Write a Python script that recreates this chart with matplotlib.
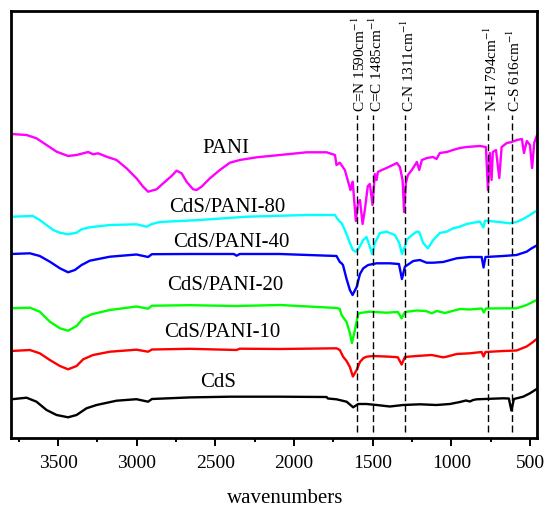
import matplotlib
matplotlib.use("Agg")
import matplotlib.pyplot as plt
from matplotlib.ticker import MultipleLocator, FixedLocator

plt.rcParams['font.family'] = ['Liberation Serif', 'DejaVu Serif']
plt.rcParams['mathtext.fontset'] = 'stix'

# ---- data (wavenumber, relative transmittance with offsets) ----
pani_w = [3800, 3701, 3638, 3574, 3510, 3437, 3383, 3309, 3278, 3246, 3192, 3129, 3065, 3002, 2960,
          2928, 2874, 2832, 2779, 2747, 2715, 2684, 2642, 2620, 2588, 2535, 2472, 2408, 2345, 2238,
          2090, 1920, 1793, 1740, 1730, 1709, 1677, 1656, 1641, 1637, 1627, 1607, 1594, 1581, 1564,
          1550, 1531, 1518, 1501, 1486, 1475, 1467, 1442, 1412, 1372, 1346, 1327, 1310, 1300, 1289,
          1276, 1251, 1219, 1204, 1187, 1155, 1117, 1094, 1073, 1028, 990, 945, 903, 818, 780, 767,
          755, 744, 736, 716, 695, 680, 647, 615, 583, 551, 538, 520, 500, 486, 473, 457]
pani_t = [304, 303, 299.7, 293, 286.3, 282, 283, 286, 283.7, 284.7, 281.3, 278, 269.7, 259.7, 251.3,
          246.3, 248.7, 254.7, 262, 267.3, 264.7, 256.3, 248.7, 248, 251.3, 259.7, 268, 275.3, 278, 280.7,
          283, 285.7, 285.7, 283, 273, 275.3, 268, 256.3, 248, 251.3, 256.3, 217, 235, 238, 214,
          228, 252, 254, 233, 264, 258, 266, 268, 270, 273, 275, 271, 258, 226, 255,
          263, 268, 276, 268, 278, 280, 281, 279, 285, 286, 288, 290, 291, 292, 291, 248,
          285, 258, 286, 288, 260, 291, 295, 296, 298, 299, 285, 297, 293, 270, 295, 302]

p80_w = [3800, 3661, 3617, 3532, 3489, 3437, 3383, 3351, 3299, 3171, 3002, 2938, 2904, 2853, 2599,
         2300, 1918, 1791, 1740, 1728, 1709, 1698, 1677, 1664, 1645, 1626, 1607, 1588, 1560, 1539,
         1518, 1503, 1486, 1454, 1412, 1391, 1359, 1331, 1314, 1295, 1284, 1263, 1221, 1204, 1179,
         1149, 1115, 1073, 1030, 988, 945, 903, 861, 818, 796, 786, 712, 627, 585, 543, 500, 468, 457]
p80_t = [221.3, 222, 218, 208, 205.3, 203.7, 205.3, 208.7, 210.7, 213, 213.7, 211.3, 214, 216, 218,
         221.3, 223, 223, 223, 220, 216.3, 215, 208, 203, 195, 188, 186.3, 190, 198, 201,
         191.3, 184, 195, 205, 206.3, 205, 203, 195, 184, 191.3, 198, 201.3, 206.3, 206, 195,
         189.7, 198, 205, 206.3, 209.7, 211.3, 214, 215.3, 216.3, 210.5, 217.3, 216.3, 214.7, 216, 219, 223, 226.3, 227]

p40_w = [3800, 3680, 3617, 3553, 3489, 3437, 3394, 3351, 3299, 3171, 3002, 2928, 2904, 2663, 2383,
         2366, 2345, 2090, 1730, 1709, 1698, 1689, 1666, 1645, 1628, 1602, 1581, 1560, 1529, 1475,
         1391, 1333, 1314, 1295, 1242, 1200, 1157, 1115, 1052, 966, 882, 807, 795, 783, 670, 585,
         521, 489, 457]
p40_t = [184, 184.7, 182, 176.3, 169.7, 165.7, 168, 173, 177.3, 181.3, 183.5, 181, 183.8, 184, 184,
         182.3, 184, 184, 182, 176, 174.7, 173, 159, 148, 143, 151, 164, 169.7, 173, 174.7,
         174.7, 174, 159, 171.3, 177, 178, 175.3, 175.3, 176, 179.7, 181, 181, 170.5, 181, 182, 183,
         186.3, 189.7, 192.5]

p20_w = [3800, 3680, 3617, 3553, 3489, 3437, 3383, 3341, 3288, 3171, 3002, 2928, 2904, 2663, 2366,
         2090, 1728, 1709, 1698, 1666, 1645, 1632, 1613, 1592, 1581, 1518, 1412, 1340, 1316, 1295,
         1221, 1162, 1125, 1092, 1041, 945, 882, 807, 793, 780, 670, 585, 521, 489, 457]
p20_t = [129.7, 130.3, 126.3, 116.3, 109.7, 107.3, 112, 119.7, 123.7, 128, 131.5, 129.3, 132.3, 132.8, 132,
         133, 130, 129, 123, 116, 105, 95, 108, 124, 125, 126.3, 125.3, 126, 119.7, 126,
         127.5, 127, 124.7, 127, 125, 129, 128.5, 129.5, 125.5, 129.5, 129.7, 129.7, 133, 135.5, 138]

p10_w = [3800, 3680, 3617, 3553, 3489, 3437, 3383, 3341, 3278, 3171, 3002, 2928, 2904, 2663, 2366,
         2345, 2090, 1730, 1709, 1688, 1666, 1645, 1626, 1602, 1581, 1560, 1539, 1497, 1391, 1340,
         1316, 1295, 1221, 1125, 1052, 1030, 966, 882, 807, 795, 783, 670, 585, 521, 489, 457]
p10_t = [87, 88, 84.7, 78, 72, 68.7, 72, 78.7, 83, 86.3, 88.3, 86.3, 88.5, 89.2, 88,
         89.3, 89, 89.7, 88, 81.3, 77, 71, 61.5, 68, 76, 79.7, 81.3, 82, 81.3, 80.7,
         73.5, 81, 82, 83, 80.7, 81.3, 84, 84.7, 86, 81.5, 86, 87, 87.5, 91.5, 95, 99]

cds_w = [3800, 3701, 3638, 3574, 3510, 3437, 3383, 3320, 3256, 3129, 3002, 2928, 2904, 2663, 2408,
         2090, 1793, 1785, 1730, 1666, 1624, 1592, 1539, 1475, 1391, 1306, 1200, 1094, 1009, 945,
         907, 882, 861, 839, 670, 634, 618, 602, 543, 500, 457]
cds_t = [38.7, 40.3, 36.3, 28, 23, 20.7, 23, 29.7, 33, 37.3, 38.8, 36.3, 39, 40.6, 41.3,
         41.3, 41, 39.5, 38.7, 36.3, 30.7, 34, 34, 33, 31.5, 33, 33.7, 33, 34, 36,
         37.5, 36.5, 38, 38.7, 39.7, 39.5, 27.5, 39, 41.3, 44.7, 49]

series = [
    (pani_w, pani_t, '#FF00FF', 'PANI', 2434, 285),
    (p80_w, p80_t, '#00FFFF', 'CdS/PANI-80', 2427, 226.3),
    (p40_w, p40_t, '#0000FF', 'CdS/PANI-40', 2402, 191),
    (p20_w, p20_t, '#00FF00', 'CdS/PANI-20', 2440, 148),
    (p10_w, p10_t, '#FF0000', 'CdS/PANI-10', 2459, 101),
    (cds_w, cds_t, '#000000', 'CdS', 2484, 51),
]

band_pos = [1602, 1497, 1295, 767, 617]
band_labels = ['C=N 1590cm$^{-1}$', 'C=C 1485cm$^{-1}$', 'C-N 1311cm$^{-1}$',
               'N-H 794cm$^{-1}$', 'C-S 616cm$^{-1}$']

fig = plt.figure(figsize=(5.49, 5.09), dpi=100)
ax = fig.add_axes([11/549, (509-438)/509, (536.7-11)/549, (438-10.7)/509])

for w, t, c, lab, lx, ly in series:
    ax.plot(w, t, color=c, lw=1.7, solid_joinstyle='round')
    ax.text(lx, ly, lab, ha='center', va='baseline', fontsize=15)

for xp, lab in zip(band_pos, band_labels):
    ax.plot([xp, xp], [6, 323], color='black', lw=1.0, dashes=(5, 2.5))
    ax.text(xp - 20, 326, lab, rotation=90, ha='center', va='bottom', fontsize=11)

ax.set_xlim(3800, 457)
ax.set_ylim(0, 427.3)
ax.set_yticks([])
ax.xaxis.set_major_locator(MultipleLocator(500))
ax.xaxis.set_minor_locator(FixedLocator([3750, 3250, 2750, 2250, 1750, 1250, 750]))
ax.tick_params(axis='x', which='major', direction='out', length=6, width=1.4, labelsize=14, pad=6)
ax.tick_params(axis='x', which='minor', direction='out', length=3, width=1.4)
for s in ax.spines.values():
    s.set_linewidth(2.0)
ax.set_xlabel('wavenumbers', fontsize=15)
ax.xaxis.set_label_coords((285-11)/(536.7-11), -(503-438)/(438-10.7))
ax.xaxis.label.set_va('baseline')

fig.savefig('out.png', dpi=100)
